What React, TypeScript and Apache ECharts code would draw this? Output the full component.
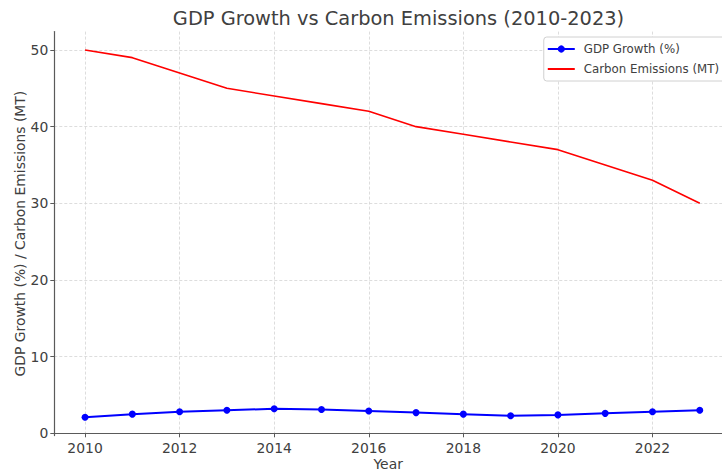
import React, { useEffect, useRef } from "react";
import * as echarts from "echarts";

const years = [2010, 2011, 2012, 2013, 2014, 2015, 2016, 2017, 2018, 2019, 2020, 2021, 2022, 2023];
const gdpGrowth = [2.1, 2.5, 2.8, 3.0, 3.2, 3.1, 2.9, 2.7, 2.5, 2.3, 2.4, 2.6, 2.8, 3.0];
const carbonEmissions = [50, 49, 47, 45, 44, 43, 42, 40, 39, 38, 37, 35, 33, 30];
const xTicks = [2010, 2012, 2014, 2016, 2018, 2020, 2022];
const yTicks = [0, 10, 20, 30, 40, 50];

const FONT = "DejaVu Sans";
const TEXT = "#404040";
const SPINE = "#5a5a5a";
const GRID = "#d4d4d4";

export default function App() {
  const ref = useRef<HTMLDivElement>(null);
  useEffect(() => {
    if (!ref.current) return;
    const chart = echarts.init(ref.current, undefined, { renderer: "svg" });
    chart.setOption({
      animation: false,
      backgroundColor: "#ffffff",
      textStyle: { fontFamily: FONT },
      title: {
        text: "GDP Growth vs Carbon Emissions (2010-2023)",
        left: 393.5,
        textAlign: "center",
        top: 3.5,
        textStyle: { fontFamily: FONT, fontSize: 19.4, fontWeight: "normal", color: TEXT },
      },
      grid: {
        left: 54.3,
        right: 0,
        top: 31.6,
        bottom: 36.4,
        containLabel: false,
        outerBoundsMode: "none",
      },
      legend: {
        orient: "vertical",
        right: -7,
        top: 37,
        padding: [6, 10, 6, 3],
        itemWidth: 27,
        itemHeight: 9,
        itemGap: 8,
        backgroundColor: "#ffffff",
        borderColor: "#d0d0d0",
        borderWidth: 1,
        borderRadius: 3,
        textStyle: { fontFamily: FONT, fontSize: 11.8, color: TEXT, padding: [0, 0, 0, 4] },
        data: [
          { name: "GDP Growth (%)" },
          { name: "Carbon Emissions (MT)", itemStyle: { color: "rgba(0,0,0,0)", borderWidth: 0 } },
        ],
      },
      xAxis: {
        type: "value",
        min: 2009.35,
        max: 2023.47,
        name: "Year",
        nameLocation: "middle",
        nameGap: 21,
        nameMoveOverlap: false,
        nameTextStyle: { fontFamily: FONT, fontSize: 13.9, color: TEXT },
        axisLine: { show: true, lineStyle: { color: SPINE, width: 1.2 } },
        axisTick: { show: true, length: 4, lineStyle: { color: SPINE }, customValues: xTicks },
        axisLabel: {
          fontFamily: FONT,
          fontSize: 13.9,
          color: TEXT,
          margin: 5,
          customValues: xTicks,
          formatter: (v: number) => String(v),
        },
        splitLine: { show: true, lineStyle: { color: GRID, type: [3, 2], width: 0.8 } },
      },
      yAxis: {
        type: "value",
        min: -0.3,
        max: 52.4,
        name: "GDP Growth (%) / Carbon Emissions (MT)",
        nameLocation: "middle",
        nameGap: 27,
        nameMoveOverlap: false,
        nameTextStyle: { fontFamily: FONT, fontSize: 13.9, color: TEXT },
        axisLine: { show: true, lineStyle: { color: SPINE, width: 1.2 } },
        axisTick: { show: true, length: 4, lineStyle: { color: SPINE }, customValues: yTicks },
        axisLabel: {
          fontFamily: FONT,
          fontSize: 13.9,
          color: TEXT,
          margin: 6,
          customValues: yTicks,
          formatter: (v: number) => String(v),
        },
        splitLine: { show: true, lineStyle: { color: GRID, type: [3, 2], width: 0.8 } },
      },
      series: [
        {
          name: "GDP Growth (%)",
          type: "line",
          data: years.map((y, i) => [y, gdpGrowth[i]]),
          symbol: "circle",
          symbolSize: 7,
          lineStyle: { color: "#0000ff", width: 2 },
          itemStyle: { color: "#0000ff" },
          z: 3,
        },
        {
          name: "Carbon Emissions (MT)",
          type: "line",
          data: years.map((y, i) => [y, carbonEmissions[i]]),
          symbol: "none",
          lineStyle: { color: "#ff0000", width: 1.6 },
          itemStyle: { color: "#ff0000" },
          z: 2,
        },
      ],
    });
    return () => chart.dispose();
  }, []);
  return (
    <div
      ref={ref}
      style={{ position: "absolute", left: 0, top: 0, width: 722, height: 472 }}
    />
  );
}
